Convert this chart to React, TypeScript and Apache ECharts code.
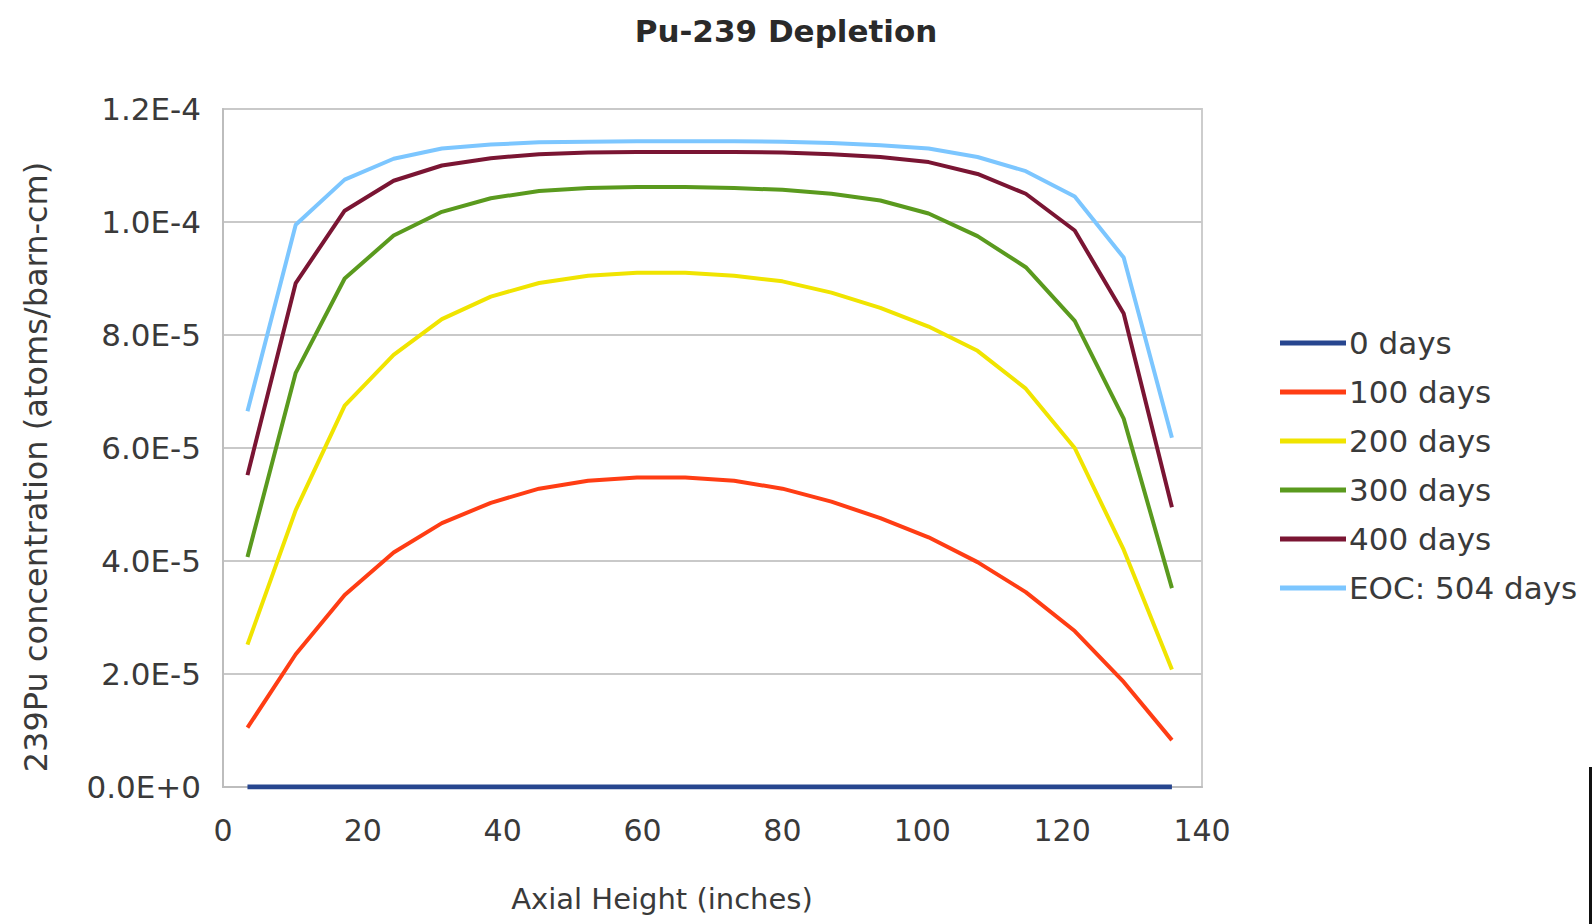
import React, { useEffect, useRef } from "react";
import * as echarts from "echarts";

// Axial node centres (inches)
const axialHeight = [3.5, 10.4, 17.4, 24.4, 31.3, 38.3, 45.2, 52.2, 59.2, 66.1, 73.1, 80.0, 87.0, 94.0, 100.9, 107.9, 114.8, 121.8, 128.8, 135.7];

// Pu-239 concentration (atoms/barn-cm) per burnup step
const days0 = [0, 0, 0, 0, 0, 0, 0, 0, 0, 0, 0, 0, 0, 0, 0, 0, 0, 0, 0, 0];
const days100 = [1.05e-5, 2.35e-5, 3.4e-5, 4.15e-5, 4.67e-5, 5.03e-5, 5.28e-5, 5.42e-5, 5.48e-5, 5.48e-5, 5.42e-5, 5.28e-5, 5.05e-5, 4.76e-5, 4.42e-5, 3.98e-5, 3.45e-5, 2.76e-5, 1.86e-5, 0.83e-5];
const days200 = [2.52e-5, 4.9e-5, 6.75e-5, 7.65e-5, 8.28e-5, 8.68e-5, 8.92e-5, 9.05e-5, 9.1e-5, 9.1e-5, 9.05e-5, 8.95e-5, 8.75e-5, 8.48e-5, 8.15e-5, 7.72e-5, 7.05e-5, 6.0e-5, 4.2e-5, 2.08e-5];
const days300 = [4.07e-5, 7.33e-5, 9.0e-5, 9.76e-5, 10.18e-5, 10.42e-5, 10.55e-5, 10.6e-5, 10.62e-5, 10.62e-5, 10.6e-5, 10.57e-5, 10.5e-5, 10.38e-5, 10.15e-5, 9.75e-5, 9.2e-5, 8.25e-5, 6.52e-5, 3.52e-5];
const days400 = [5.52e-5, 8.92e-5, 10.2e-5, 10.73e-5, 11.0e-5, 11.13e-5, 11.2e-5, 11.23e-5, 11.24e-5, 11.24e-5, 11.24e-5, 11.23e-5, 11.2e-5, 11.15e-5, 11.06e-5, 10.85e-5, 10.5e-5, 9.85e-5, 8.38e-5, 4.95e-5];
const days504 = [6.65e-5, 9.95e-5, 10.75e-5, 11.12e-5, 11.3e-5, 11.37e-5, 11.41e-5, 11.42e-5, 11.43e-5, 11.43e-5, 11.43e-5, 11.42e-5, 11.4e-5, 11.36e-5, 11.3e-5, 11.15e-5, 10.9e-5, 10.45e-5, 9.37e-5, 6.18e-5];

const seriesNames = ["0 days", "100 days", "200 days", "300 days", "400 days", "EOC: 504 days"];
const seriesValues = [days0, days100, days200, days300, days400, days504];
const seriesColors = ["#27468f", "#ff3d14", "#f0e400", "#5a9a1e", "#7a1533", "#7cc6ff"];

const FONT = "'DejaVu Sans', 'Liberation Sans', sans-serif";
const TEXT = "#3a3a3a";

export default function App() {
  const ref = useRef<HTMLDivElement>(null);

  useEffect(() => {
    if (!ref.current) return;
    const chart = echarts.init(ref.current, undefined, { renderer: "svg" });

    const series = seriesNames.map((name, k) => ({
      name,
      type: "line",
      data: axialHeight.map((x, i) => [x, seriesValues[k][i]]),
      symbol: "none",
      smooth: false,
      lineStyle: { width: k === 0 ? 5 : 4, color: seriesColors[k] },
      itemStyle: { color: seriesColors[k] },
      z: k === 0 ? 3 : 2,
    }));

    chart.setOption({
      animation: false,
      backgroundColor: "#ffffff",
      textStyle: { fontFamily: FONT },
      grid: {
        left: 223,
        right: 391,
        top: 109,
        bottom: 137,
        show: true,
        borderColor: "#cdcdcd",
        borderWidth: 2,
      },
      xAxis: {
        type: "value",
        min: 0,
        max: 140,
        interval: 20,
        axisLine: { show: true, lineStyle: { color: "#bdbdbd", width: 2 } },
        axisTick: { show: false },
        splitLine: { show: false },
        axisLabel: { fontSize: 30, color: TEXT, margin: 28, fontFamily: FONT },
      },
      yAxis: {
        type: "value",
        min: 0,
        max: 1.2e-4,
        interval: 2e-5,
        axisLine: { show: true, lineStyle: { color: "#bdbdbd", width: 2 } },
        axisTick: { show: false },
        splitLine: { show: true, lineStyle: { color: "#c9c9c9", width: 2 } },
        axisLabel: {
          fontSize: 31,
          color: TEXT,
          margin: 22,
          fontFamily: FONT,
          formatter: (v: number) => v.toExponential(1).toUpperCase(),
        },
      },
      legend: {
        orient: "vertical",
        left: 1275,
        top: 322,
        icon: "rect",
        itemWidth: 66,
        itemHeight: 5,
        itemGap: 17,
        data: seriesNames,
        textStyle: { fontSize: 31, color: TEXT, fontFamily: FONT, lineHeight: 32, padding: [0, 0, 0, -2] },
      },
      graphic: [
        {
          type: "text",
          x: 786,
          y: 31,
          style: {
            text: "Pu-239 Depletion",
            fontSize: 31,
            fontWeight: "bold",
            fontFamily: FONT,
            fill: "#2a2a2a",
            align: "center",
            verticalAlign: "middle",
          },
        },
        {
          type: "text",
          x: 662,
          y: 899,
          style: {
            text: "Axial Height (inches)",
            fontSize: 29,
            fontFamily: FONT,
            fill: TEXT,
            align: "center",
            verticalAlign: "middle",
          },
        },
        {
          type: "text",
          x: 36,
          y: 467,
          rotation: Math.PI / 2,
          style: {
            text: "239Pu concentration (atoms/barn-cm)",
            fontSize: 32,
            fontFamily: FONT,
            fill: TEXT,
            align: "center",
            verticalAlign: "middle",
          },
        },
        {
          type: "rect",
          shape: { x: 1589, y: 767, width: 3, height: 157 },
          style: { fill: "#111111" },
        },
      ],
      series,
    });

    return () => chart.dispose();
  }, []);

  return (
    <div
      ref={ref}
      style={{ position: "fixed", left: 0, top: 0, width: 1593, height: 924, background: "#fff" }}
    />
  );
}
